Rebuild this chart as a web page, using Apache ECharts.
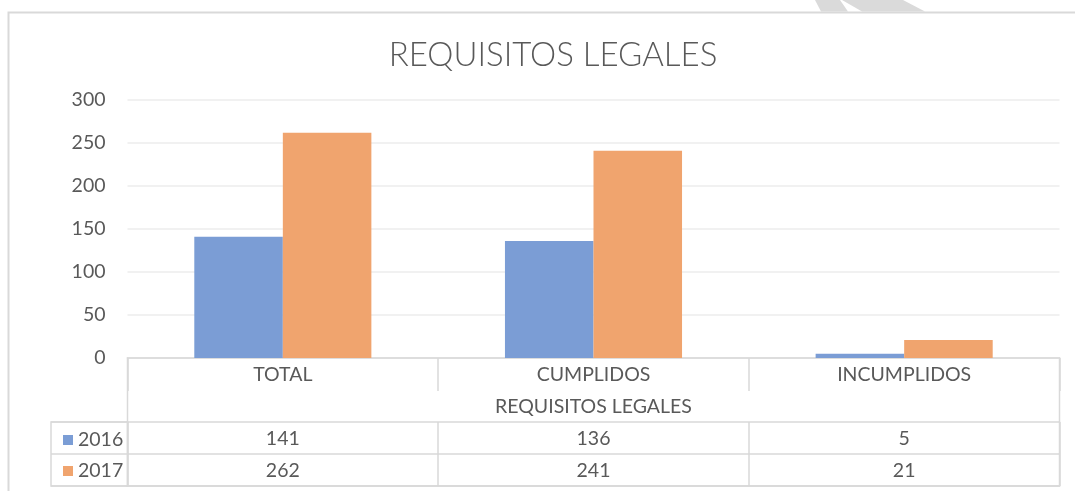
<!DOCTYPE html>
<html>
<head>
<meta charset="utf-8">
<script src="https://cdn.jsdelivr.net/npm/echarts@6/dist/echarts.min.js"></script>
<style>
  html, body { margin: 0; padding: 0; background: #fff; }
  #container { width: 1075px; height: 491px; }
</style>
</head>
<body>
<div id="container"></div>
<script>
// values
var categories = ["TOTAL", "CUMPLIDOS", "INCUMPLIDOS"];
var years = ["2016", "2017"];
var vals2016 = [141, 136, 5];
var vals2017 = [262, 241, 21];
var yTicks = { min: 0, max: 300, interval: 50 };

var blue = "#7b9dd5";
var orange = "#f0a46e";
var gray = "#595959";
var lineGray = "#d9d9d9";
var fontSize = 19.5;

// plot area edges (px)
var plotLeft = 127.5, plotRight = 1059.5, plotTop = 100, plotBottom = 358;
var rowH = 32;

function tableRow(values, offset) {
    return {
        type: "category",
        gridIndex: 0,
        position: "bottom",
        offset: offset,
        data: values.map(String),
        axisLine: { show: true, lineStyle: { color: lineGray, width: 1.5 } },
        axisTick: { show: true, length: rowH, lineStyle: { color: lineGray, width: 1.5 } },
        axisLabel: { margin: 7, fontFamily: "Lato", fontSize: fontSize, color: gray }
    };
}

var chart = echarts.init(document.getElementById("container"), null, { renderer: "canvas" });

var option = {
    animation: false,
    title: {
        text: "REQUISITOS LEGALES",
        left: 548,
        textAlign: "center",
        top: 34,
        textStyle: { fontFamily: "Lato", fontWeight: 300, fontSize: 33, color: gray }
    },
    legend: {
        data: years,
        orient: "vertical",
        left: 58,
        top: 425,
        itemWidth: 10,
        itemHeight: 10,
        itemGap: 11,
        icon: "rect",
        textStyle: { fontFamily: "Lato", fontSize: fontSize, color: gray }
    },
    grid: [
        { left: plotLeft, right: 1075 - plotRight, top: plotTop, bottom: 491 - plotBottom },
        // outer box of the data table
        { left: plotLeft, right: 1075 - plotRight, top: plotBottom, height: 4 * rowH,
          show: true, borderColor: lineGray, borderWidth: 1.5, backgroundColor: "transparent" },
        // legend column of the data table
        { left: 51, width: plotLeft - 51, top: plotBottom + 2 * rowH, height: 2 * rowH,
          show: true, borderColor: lineGray, borderWidth: 1.5, backgroundColor: "transparent" }
    ],
    xAxis: [
        {
            type: "category",
            gridIndex: 0,
            data: categories,
            axisLine: { show: true, lineStyle: { color: lineGray, width: 1.5 } },
            axisTick: { show: true, length: 33, lineStyle: { color: lineGray, width: 1.5 } },
            axisLabel: { margin: 7, fontFamily: "Lato", fontSize: fontSize, color: gray },
            name: "REQUISITOS LEGALES",
            nameLocation: "middle",
            nameGap: 39,
            nameTextStyle: { fontFamily: "Lato", fontSize: 19.5, color: gray }
        },
        tableRow(vals2016, 2 * rowH),
        tableRow(vals2017, 3 * rowH),
        {
            type: "category",
            gridIndex: 0,
            position: "bottom",
            offset: 4 * rowH,
            data: categories,
            axisLine: { show: true, lineStyle: { color: lineGray, width: 1.5 } },
            axisTick: { show: false },
            axisLabel: { show: false }
        },
        { type: "value", gridIndex: 1, show: false },
        { type: "value", gridIndex: 2, show: false }
    ],
    yAxis: [
        {
            type: "value",
            gridIndex: 0,
            min: yTicks.min,
            max: yTicks.max,
            interval: yTicks.interval,
            axisLine: { show: false },
            axisTick: { show: false },
            axisLabel: { margin: 22, fontFamily: "Lato", fontSize: fontSize, color: gray },
            splitLine: { lineStyle: { color: "#ececec", width: 1.5 } }
        },
        { type: "value", gridIndex: 1, show: false },
        {
            type: "category",
            gridIndex: 2,
            data: years,
            inverse: true,
            axisLine: { show: false },
            axisTick: { show: false },
            axisLabel: { show: false },
            splitLine: { show: true, lineStyle: { color: lineGray, width: 1.5 } }
        }
    ],
    series: [
        {
            name: years[0], type: "bar", xAxisIndex: 0, yAxisIndex: 0,
            data: vals2016, itemStyle: { color: blue },
            barGap: "0%", barCategoryGap: "43%"
        },
        {
            name: years[1], type: "bar", xAxisIndex: 0, yAxisIndex: 0,
            data: vals2017, itemStyle: { color: orange },
            barGap: "0%", barCategoryGap: "43%"
        }
    ],
    graphic: [
        // chart frame, cut by the page edge
        { type: "rect", silent: true, shape: { x: 8.5, y: 12.5, width: 1200, height: 600 },
          style: { fill: "none", stroke: lineGray, lineWidth: 2 } },
        // bits of the page watermark above the frame
        { type: "polygon", silent: true, shape: { points: [[815, 0], [840, 0], [848, 11.5], [821, 11.5]] },
          style: { fill: "#dadada" } },
        { type: "polygon", silent: true, shape: { points: [[842, 0], [903, 0], [925, 11.5], [862, 11.5]] },
          style: { fill: "#dadada" } }
    ]
};

chart.setOption(option);
window.addEventListener("resize", chart.resize);
</script>
</body>
</html>
